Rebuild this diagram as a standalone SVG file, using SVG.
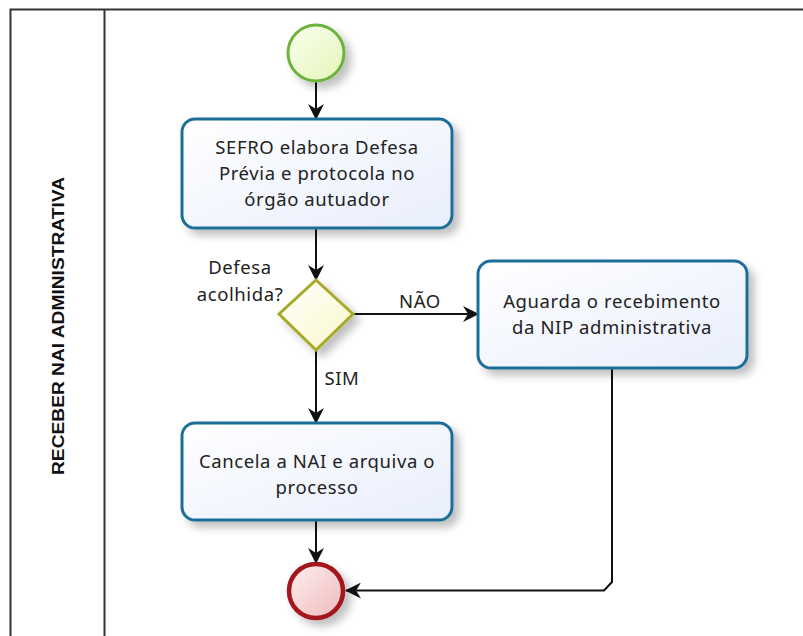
<svg xmlns="http://www.w3.org/2000/svg" width="803" height="636" viewBox="0 0 803 636">
<defs>
<linearGradient id="taskFill" x1="0" y1="0" x2="1" y2="1">
<stop offset="0" stop-color="#ffffff"/><stop offset="1" stop-color="#e8eefc"/>
</linearGradient>
<linearGradient id="startFill" x1="0" y1="0" x2="1" y2="1">
<stop offset="0" stop-color="#fbfff0"/><stop offset="1" stop-color="#e4f5b8"/>
</linearGradient>
<linearGradient id="endFill" x1="0" y1="0" x2="1" y2="1">
<stop offset="0" stop-color="#fdf0f0"/><stop offset="1" stop-color="#efb9bb"/>
</linearGradient>
<linearGradient id="gwFill" x1="0" y1="0" x2="1" y2="1">
<stop offset="0" stop-color="#ffffff"/><stop offset="1" stop-color="#f8f8c8"/>
</linearGradient>
<filter id="shadow" x="-20%" y="-20%" width="150%" height="150%">
<feGaussianBlur in="SourceAlpha" stdDeviation="4"/>
<feOffset dx="6" dy="6" result="b"/>
<feComponentTransfer><feFuncA type="linear" slope="0.25"/></feComponentTransfer>
<feMerge><feMergeNode/><feMergeNode in="SourceGraphic"/></feMerge>
</filter>
<marker id="arrow" markerWidth="16" markerHeight="16" viewBox="0 0 16 16" refX="15" refY="8" orient="auto" markerUnits="userSpaceOnUse">
<path d="M0,0 L16,8 L0,16 L5,8 Z" fill="#111"/>
</marker>
</defs>
<style>
.task{fill:url(#taskFill);stroke:#1e6e9a;stroke-width:3}
.lbl{font-family:"Noto Sans","Open Sans",sans-serif;font-size:18.5px;letter-spacing:0.6px;fill:#222;text-anchor:middle}
.conn{fill:none;stroke:#111;stroke-width:2}
</style>
<rect width="803" height="636" fill="#ffffff"/>
<g id="pool">
<path d="M10.5,636 V9.5 H803" fill="none" stroke="#333" stroke-width="2"/>
<line x1="104.5" y1="9" x2="104.5" y2="636" stroke="#333" stroke-width="2"/>
<text x="64" y="326" transform="rotate(-90 64 326)" font-family="'Liberation Sans',Arial,sans-serif" font-weight="bold" font-size="16" fill="#111" text-anchor="middle" textLength="298" lengthAdjust="spacingAndGlyphs">RECEBER NAI ADMINISTRATIVA</text>
</g>
<g id="connectors">
<line class="conn" x1="316" y1="82" x2="316" y2="119" marker-end="url(#arrow)"/>
<line class="conn" x1="316" y1="228" x2="316" y2="280" marker-end="url(#arrow)"/>
<line class="conn" x1="353" y1="314" x2="478" y2="314" marker-end="url(#arrow)"/>
<line class="conn" x1="316" y1="350" x2="316" y2="423" marker-end="url(#arrow)"/>
<line class="conn" x1="316" y1="520" x2="316" y2="563" marker-end="url(#arrow)"/>
<path class="conn" d="M612,368 V582 L604,590.5 H346" marker-end="url(#arrow)"/>
<text class="lbl" x="420" y="308">NÃO</text>
<text class="lbl" x="342" y="385">SIM</text>
</g>
<g id="start">
<circle cx="316" cy="53" r="28" fill="url(#startFill)" stroke="#6cb33e" stroke-width="3" filter="url(#shadow)"/>
</g>
<g id="task1">
<rect class="task" x="182" y="119" width="270" height="109" rx="13" filter="url(#shadow)"/>
<text class="lbl" x="317" y="154">SEFRO elabora Defesa</text>
<text class="lbl" x="317" y="180">Prévia e protocola no</text>
<text class="lbl" x="317" y="206">órgão autuador</text>
</g>
<g id="gateway">
<path d="M316,280 L353,314 L316,350 L279,314 Z" fill="url(#gwFill)" stroke="#a8a82a" stroke-width="3" filter="url(#shadow)"/>
<text class="lbl" x="240" y="274">Defesa</text>
<text class="lbl" x="240" y="301">acolhida?</text>
</g>
<g id="task2">
<rect class="task" x="478" y="261" width="269" height="107" rx="13" filter="url(#shadow)"/>
<text class="lbl" x="612" y="308">Aguarda o recebimento</text>
<text class="lbl" x="612" y="334">da NIP administrativa</text>
</g>
<g id="task3">
<rect class="task" x="182" y="423" width="270" height="97" rx="13" filter="url(#shadow)"/>
<text class="lbl" x="317" y="468">Cancela a NAI e arquiva o</text>
<text class="lbl" x="317" y="494">processo</text>
</g>
<g id="end">
<circle cx="316" cy="591" r="27" fill="url(#endFill)" stroke="#a3121a" stroke-width="4.5" filter="url(#shadow)"/>
</g>
</svg>
